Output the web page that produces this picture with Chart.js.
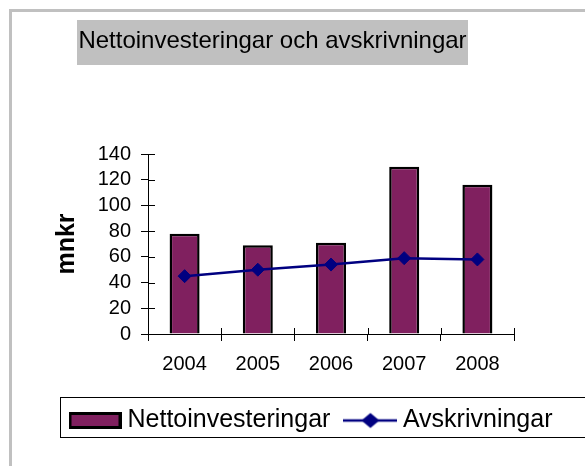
<!DOCTYPE html>
<html>
<head>
<meta charset="utf-8">
<script src="https://cdn.jsdelivr.net/npm/chart.js@4"></script>
<style>
  html, body { margin: 0; padding: 0; background: #fff; }
  #wrap { width: 585px; height: 466px; }
</style>
</head>
<body>
<div id="wrap"><canvas id="investChart" width="585" height="466"></canvas></div>
<script>
const chartTitle = "Nettoinvesteringar och avskrivningar";
const years = ["2004", "2005", "2006", "2007", "2008"];
const nettoinvesteringar = [78, 69, 71, 130, 116];
const avskrivningar = [45, 50, 54, 59, 58];
const yTicks = [0, 20, 40, 60, 80, 100, 120, 140];

const barColor = "#80205f";
const lineColor = "#000080";
const FONT = "'Liberation Sans', Arial, sans-serif";

// legend symbols drawn on small canvases
function barSymbol() {
  const c = document.createElement("canvas");
  c.width = 53; c.height = 17;
  const g = c.getContext("2d");
  g.fillStyle = barColor;
  g.fillRect(0, 0, 53, 17);
  g.lineWidth = 3;
  g.strokeStyle = "#000";
  g.strokeRect(1.5, 1.5, 50, 14);
  return c;
}
function lineSymbol() {
  const c = document.createElement("canvas");
  c.width = 54; c.height = 18;
  const g = c.getContext("2d");
  g.strokeStyle = lineColor;
  g.lineWidth = 2.5;
  g.beginPath(); g.moveTo(0, 9); g.lineTo(54, 9); g.stroke();
  g.fillStyle = lineColor;
  g.beginPath();
  g.moveTo(27 - 9, 9); g.lineTo(27, 1.5); g.lineTo(27 + 9, 9); g.lineTo(27, 16.5);
  g.closePath(); g.fill();
  return c;
}

const decorations = {
  id: "decorations",
  beforeDraw(chart) {
    const c = chart.ctx;
    c.save();
    // outer frame
    c.strokeStyle = "#c0c0c0";
    c.lineWidth = 3;
    c.strokeRect(10.5, 10.5, 700, 600);
    // title
    c.fillStyle = "#c0c0c0";
    c.fillRect(77, 20, 391, 45);
    c.fillStyle = "#000";
    c.font = "24px " + FONT;
    c.textAlign = "center";
    c.textBaseline = "middle";
    c.fillText(chartTitle, 272.5, 41);
    // legend box
    c.strokeStyle = "#000";
    c.lineWidth = 1;
    c.strokeRect(60.5, 397.5, 700, 40);
    c.restore();
  },
  afterDraw(chart) {
    // inner half of the tick marks (they cross the axes)
    const c = chart.ctx;
    const x = chart.scales.x, y = chart.scales.y;
    const area = chart.chartArea;
    c.save();
    c.strokeStyle = "#000";
    c.lineWidth = 1;
    c.beginPath();
    yTicks.forEach(v => {
      const py = Math.round(y.getPixelForValue(v)) + 0.5;
      c.moveTo(area.left, py); c.lineTo(area.left + 7, py);
    });
    const half = (x.getPixelForValue(1) - x.getPixelForValue(0)) / 2;
    years.forEach((yr, i) => {
      const px = Math.round(x.getPixelForValue(i) + half) + 0.5;
      c.moveTo(px, area.bottom); c.lineTo(px, area.bottom - 6);
    });
    c.stroke();
    c.restore();
  }
};

const ctx = document.getElementById("investChart").getContext("2d");
new Chart(ctx, {
  data: {
    labels: years,
    datasets: [
      {
        type: "bar",
        label: "Nettoinvesteringar",
        data: nettoinvesteringar,
        backgroundColor: barColor,
        borderColor: "#000",
        borderWidth: 2.5,
        categoryPercentage: 1,
        barPercentage: 0.41,
        order: 2
      },
      {
        type: "line",
        label: "Avskrivningar",
        data: avskrivningar,
        borderColor: lineColor,
        backgroundColor: lineColor,
        borderWidth: 2.5,
        pointStyle: "rectRot",
        pointRadius: 6.5,
        pointBorderWidth: 1,
        pointBackgroundColor: lineColor,
        pointBorderColor: lineColor,
        tension: 0,
        order: 1
      }
    ]
  },
  options: {
    responsive: false,
    animation: false,
    layout: { padding: { top: 154, left: 55, right: 0, bottom: 23 } },
    plugins: {
      title: { display: false },
      tooltip: { enabled: false },
      legend: {
        position: "bottom",
        align: "start",
        labels: {
          usePointStyle: true,
          pointStyleWidth: 40,
          boxHeight: 17,
          padding: 20,
          color: "#000",
          font: { family: FONT, size: 25 },
          generateLabels() {
            return [
              { text: "Nettoinvesteringar", pointStyle: barSymbol(), fontColor: "#000", datasetIndex: 0, lineWidth: 0, hidden: false },
              { text: "Avskrivningar", pointStyle: lineSymbol(), fontColor: "#000", datasetIndex: 1, lineWidth: 0, hidden: false }
            ];
          }
        }
      }
    },
    scales: {
      x: {
        offset: true,
        afterFit(scale) { scale.height = 54; },
        grid: { offset: true, drawOnChartArea: false, drawTicks: true, tickLength: 7, color: "#000" },
        border: { color: "#000", width: 1 },
        ticks: { color: "#000", padding: 11, font: { family: FONT, size: 20 } }
      },
      y: {
        min: 0,
        max: 140,
        afterFit(scale) { scale.width = 93; },
        afterBuildTicks(scale) { scale.ticks = yTicks.map(v => ({ value: v })); },
        grid: { drawOnChartArea: false, drawTicks: true, tickLength: 7, color: "#000" },
        border: { color: "#000", width: 1 },
        ticks: { color: "#000", padding: 10, autoSkip: false, font: { family: FONT, size: 20 } },
        title: {
          display: true,
          text: "mnkr",
          color: "#000",
          padding: { top: 0, bottom: 0 },
          font: { family: FONT, size: 25, weight: "bold", lineHeight: 1 }
        }
      },
      // empty right-hand space (keeps the plot narrower than the legend)
      spacer: {
        type: "linear",
        position: "right",
        min: 0,
        max: 140,
        afterFit(scale) { scale.width = 71; },
        grid: { display: false, drawTicks: false },
        border: { display: false },
        ticks: { display: false }
      }
    }
  },
  plugins: [decorations]
});
</script>
</body>
</html>
